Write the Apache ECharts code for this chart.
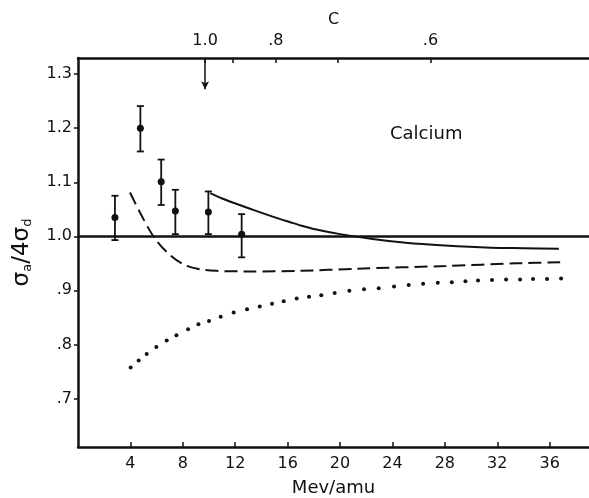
<!DOCTYPE html>
<html>
<head>
<meta charset="utf-8">
<script src="https://cdn.jsdelivr.net/npm/echarts@6/dist/echarts.min.js"></script>
<style>html,body{margin:0;padding:0;background:#fff}#c{width:589px;height:498px}</style>
</head>
<body>
<div id="c"></div>
<script>
// ---- data ----
const xTicks = [4, 8, 12, 16, 20, 24, 28, 32, 36];
const yTicks = [0.7, 0.8, 0.9, 1.0, 1.1, 1.2, 1.3];
const cTickE = [9.7, 11.8, 15.1, 19.8, 26.9];
const cTickLabels = ['1.0', '', '.8', '', '.6'];

const energy = [2.82, 4.76, 6.35, 7.43, 9.95, 12.49];
const ratio = [1.035, 1.200, 1.101, 1.047, 1.045, 1.004];
const errLow = [0.993, 1.157, 1.058, 1.004, 1.004, 0.961];
const errHigh = [1.075, 1.241, 1.142, 1.086, 1.083, 1.041];

const solidE = [10.08, 11.0, 11.86, 13.13, 14.91, 16.2, 17.0, 18.1, 20.0, 22.5, 25.0, 28.0, 31.5, 34.0, 36.7];
const solidR = [1.080, 1.070, 1.062, 1.051, 1.036, 1.026, 1.020, 1.013, 1.004, 0.995, 0.988, 0.983, 0.979, 0.978, 0.977];

const dashE = [3.97, 4.73, 5.75, 6.77, 8.04, 9.31, 10.59, 13.13, 16.95, 21.27, 28.1, 33.5, 36.8];
const dashR = [1.081, 1.044, 1.000, 0.971, 0.948, 0.939, 0.936, 0.935, 0.936, 0.940, 0.945, 0.950, 0.952];

const dotE = [4.02, 4.63, 5.24, 5.98, 6.77, 7.51, 8.40, 9.19, 10.0, 10.89, 11.88, 12.90, 13.87, 14.81, 15.70, 16.69,
  17.63, 18.57, 19.59, 20.71, 21.83, 22.95, 24.12, 25.24, 26.34, 27.46, 28.53, 29.57, 30.53, 31.60, 32.67, 33.74, 34.73, 35.80, 36.87];
const dotR = [0.757, 0.770, 0.782, 0.795, 0.807, 0.817, 0.828, 0.837, 0.843, 0.851, 0.859, 0.865, 0.870, 0.875, 0.880, 0.885,
  0.888, 0.891, 0.895, 0.899, 0.902, 0.904, 0.907, 0.910, 0.912, 0.914, 0.915, 0.917, 0.918, 0.919, 0.920, 0.920, 0.921, 0.921, 0.922];

const refLine = 1.0;
const arrowE = 9.7, arrowTop = 1.33, arrowTip = 1.272;

// ---- chart ----
const ink = '#111';
const FONT = 'DejaVu Sans';
const zip = (a, b) => a.map((v, i) => [v, b[i]]);
const fmtY = v => { const s = v.toFixed(1); return v < 1 ? s.replace(/^0/, '') : s; };

const chart = echarts.init(document.getElementById('c'), null, {renderer: 'canvas'});
chart.setOption({
  backgroundColor: '#fff',
  animation: false,
  textStyle: {fontFamily: FONT, color: ink},
  grid: {left: 78, right: 0, top: 58, bottom: 51, containLabel: false, outerBoundsMode: 'none'},
  xAxis: [{
    type: 'value', min: 0, max: 39, position: 'bottom',
    axisLine: {show: true, onZero: false, lineStyle: {color: ink, width: 2.5}},
    axisTick: {show: true, inside: true, length: 5, lineStyle: {color: ink, width: 1.5}, customValues: xTicks},
    axisLabel: {customValues: xTicks, color: ink, fontSize: 16, margin: 9, fontFamily: FONT},
    splitLine: {show: false},
    name: 'Mev/amu', nameLocation: 'middle', nameGap: 32,
    nameTextStyle: {fontSize: 18, color: ink, fontFamily: FONT}
  }, {
    type: 'value', min: 0, max: 39, position: 'top',
    axisLine: {show: true, onZero: false, lineStyle: {color: ink, width: 2.5}},
    axisTick: {show: true, inside: true, length: 5, lineStyle: {color: ink, width: 1.5}, customValues: cTickE},
    axisLabel: {
      customValues: cTickE.filter((v, i) => cTickLabels[i] !== ''),
      formatter: v => cTickLabels[cTickE.indexOf(v)],
      color: ink, fontSize: 16, margin: 9, fontFamily: FONT
    },
    splitLine: {show: false},
    name: 'C', nameLocation: 'middle', nameGap: 29,
    nameTextStyle: {fontSize: 16, color: ink, fontFamily: FONT}
  }],
  yAxis: [{
    type: 'value', min: 0.61, max: 1.33,
    axisLine: {show: true, onZero: false, lineStyle: {color: ink, width: 2.5}},
    axisTick: {show: true, inside: false, length: 4, lineStyle: {color: ink, width: 1.5}, customValues: yTicks},
    axisLabel: {customValues: yTicks, formatter: fmtY, color: ink, fontSize: 16, margin: 6, fontFamily: FONT},
    splitLine: {show: false},
    name: '{s|σ}{b|a}{s|/4σ}{b|d}', nameLocation: 'middle', nameGap: 44, nameRotate: 90,
    nameTextStyle: {
      color: ink, fontFamily: FONT,
      rich: {
        s: {fontSize: 23, fontFamily: FONT, color: ink},
        b: {fontSize: 13, fontFamily: FONT, color: ink, padding: [10, 0, 0, 0]}
      }
    }
  }],
  graphic: [{
    type: 'text', left: 390, top: 125,
    style: {text: 'Calcium', fontSize: 18, fontFamily: FONT, fill: ink}
  }],
  series: [
    {
      type: 'line', name: 'solid', data: zip(solidE, solidR), smooth: 0.3, showSymbol: false,
      lineStyle: {color: ink, width: 2},
      markLine: {
        silent: true, symbol: 'none', label: {show: false},
        lineStyle: {color: ink, width: 2.5, type: 'solid'},
        data: [{yAxis: refLine}]
      }
    },
    {
      type: 'line', name: 'dashed', data: zip(dashE, dashR), smooth: 0.3, showSymbol: false,
      lineStyle: {color: ink, width: 2, type: [13, 6]}
    },
    {
      type: 'scatter', name: 'dotted', data: zip(dotE, dotR), symbol: 'circle', symbolSize: 4,
      itemStyle: {color: ink, opacity: 1}
    },
    {
      type: 'custom', name: 'errors',
      data: energy.map((e, i) => [e, errLow[i], errHigh[i]]),
      renderItem: function (params, api) {
        const lo = api.coord([api.value(0), api.value(1)]);
        const hi = api.coord([api.value(0), api.value(2)]);
        const w = 3.5;
        const st = {stroke: ink, lineWidth: 1.8};
        return {type: 'group', children: [
          {type: 'line', shape: {x1: lo[0], y1: lo[1], x2: hi[0], y2: hi[1]}, style: st},
          {type: 'line', shape: {x1: lo[0] - w, y1: lo[1], x2: lo[0] + w, y2: lo[1]}, style: st},
          {type: 'line', shape: {x1: hi[0] - w, y1: hi[1], x2: hi[0] + w, y2: hi[1]}, style: st}
        ]};
      },
      z: 3
    },
    {
      type: 'scatter', name: 'points', data: zip(energy, ratio), symbol: 'circle', symbolSize: 7,
      itemStyle: {color: ink, opacity: 1}, z: 4,
      markLine: {
        silent: true, symbol: ['none', 'arrow'], symbolSize: [6, 8], label: {show: false},
        lineStyle: {color: ink, width: 1.5, type: 'solid'},
        data: [[{coord: [arrowE, arrowTop]}, {coord: [arrowE, arrowTip]}]]
      }
    }
  ]
});
</script>
</body>
</html>
